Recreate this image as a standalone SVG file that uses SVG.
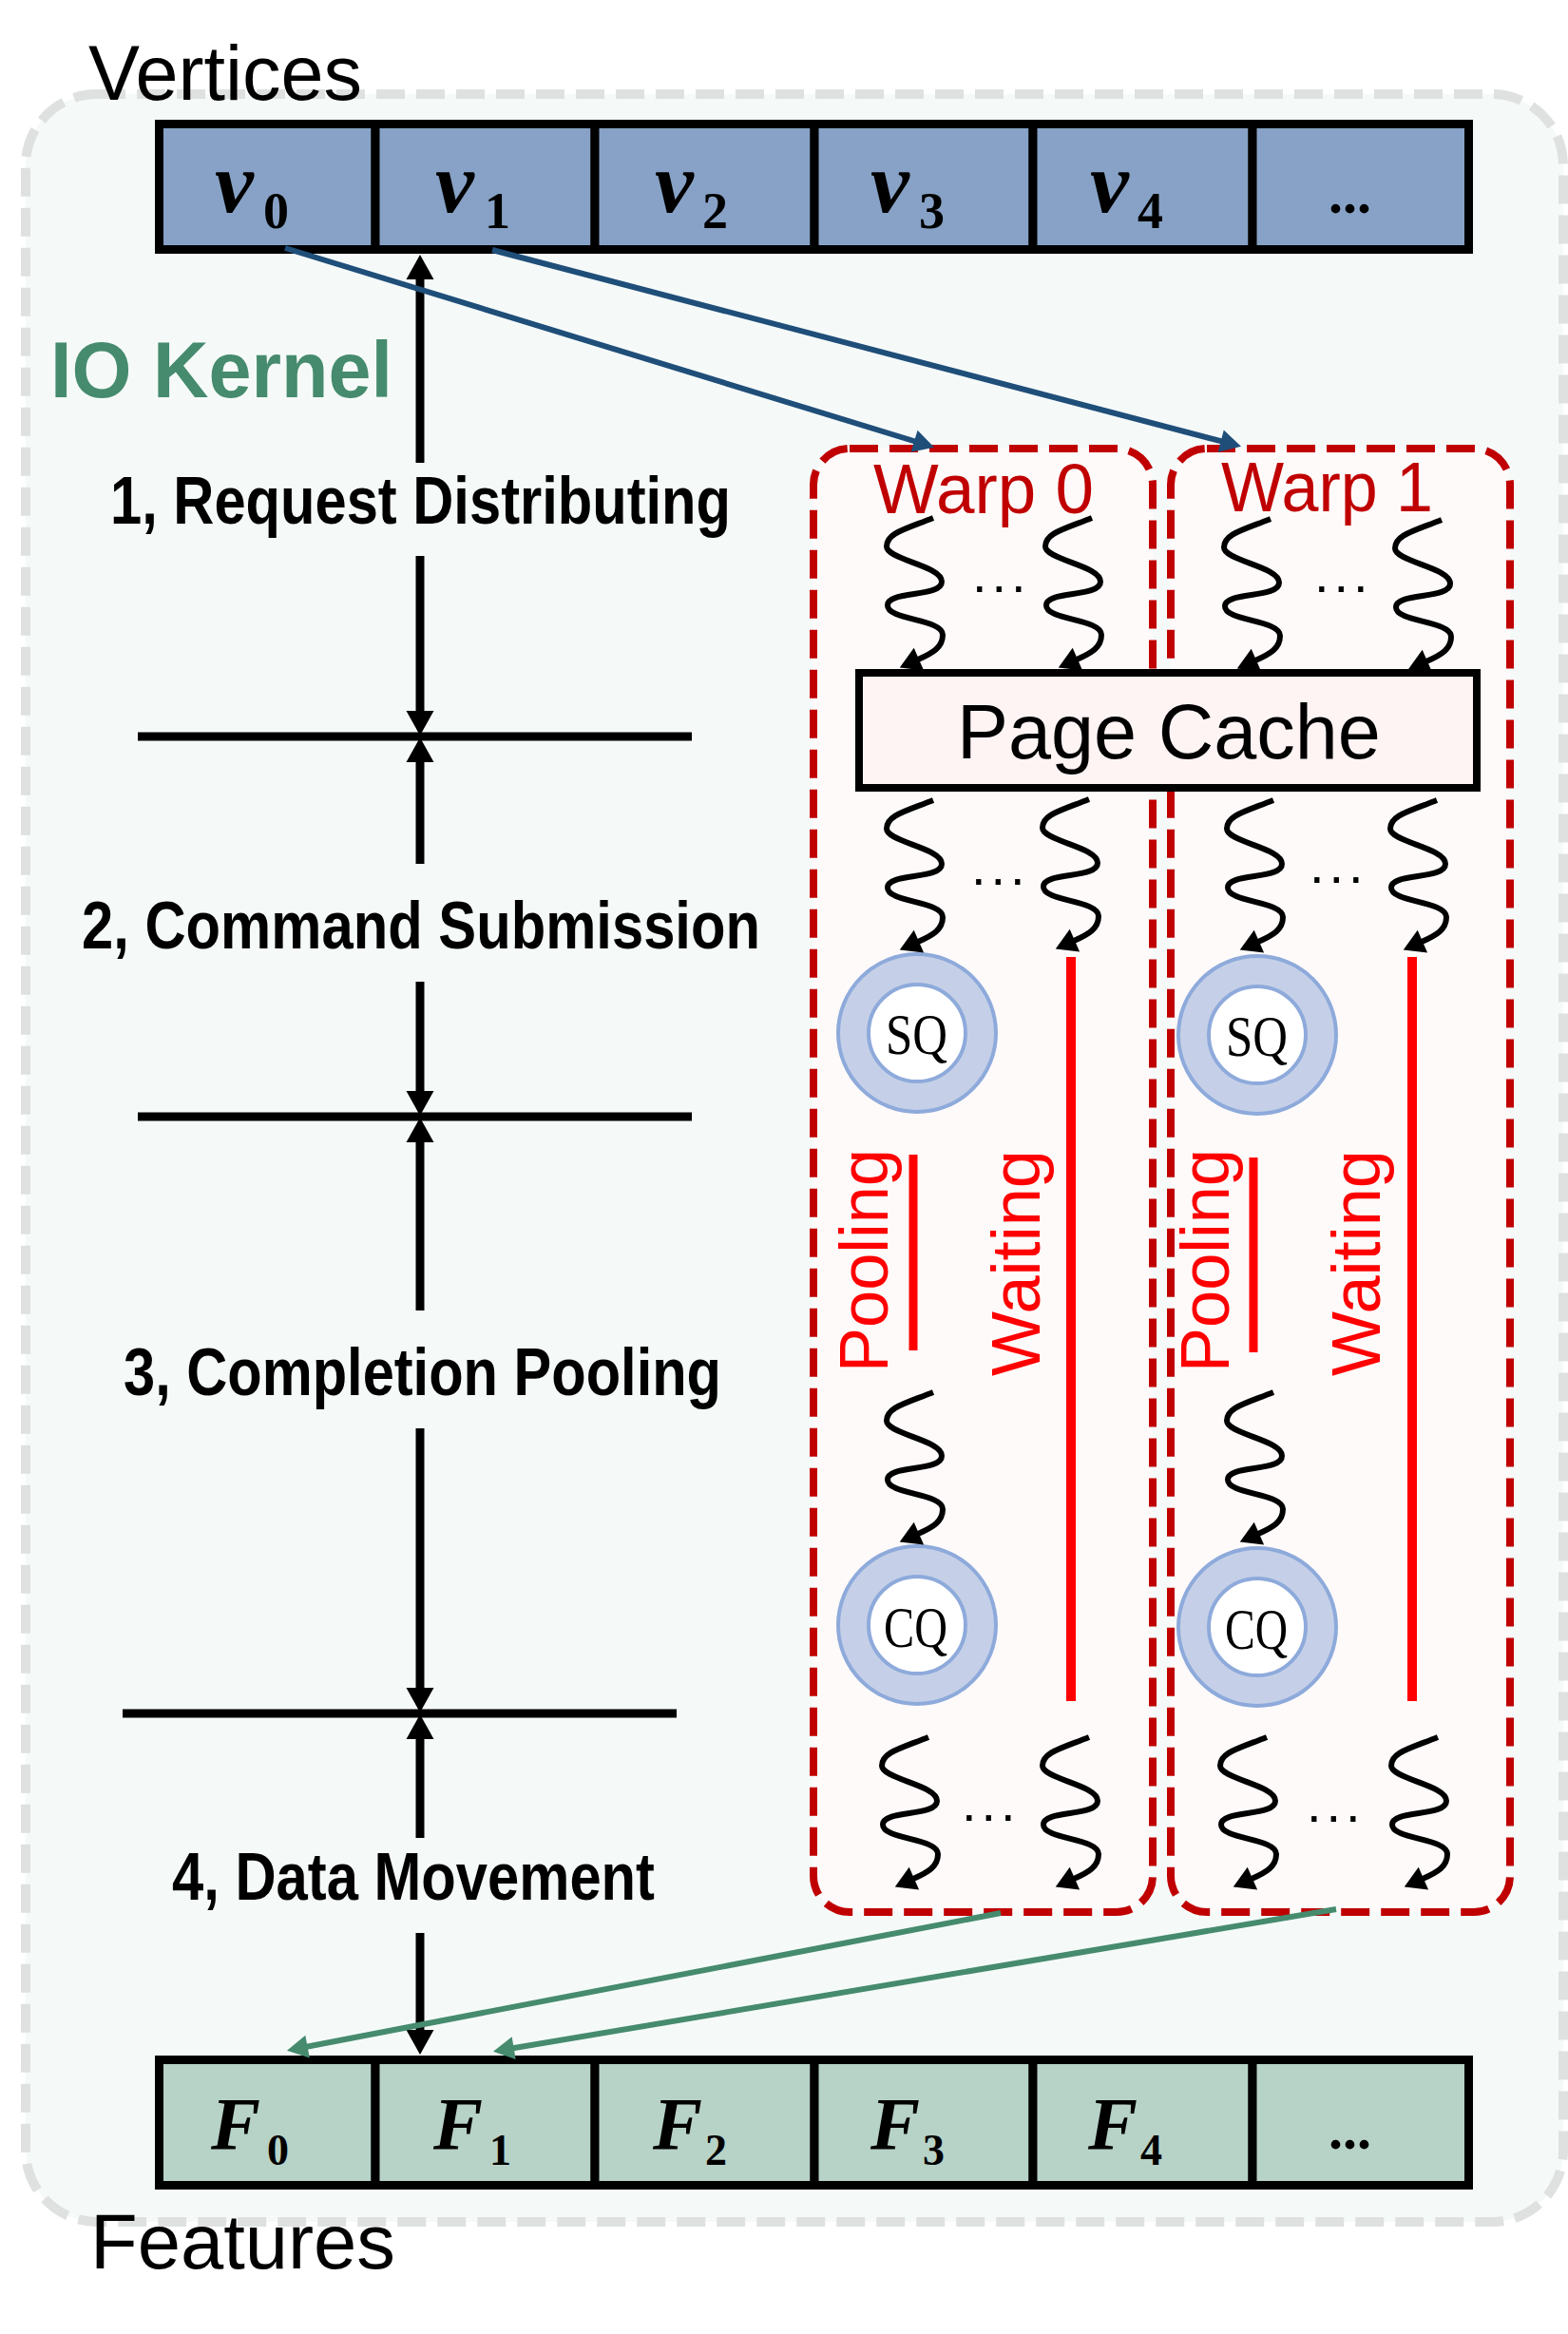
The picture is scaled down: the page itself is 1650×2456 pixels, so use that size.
<svg xmlns="http://www.w3.org/2000/svg" width="1650" height="2456" viewBox="0 0 1650 2456">
<defs>
<style>
.big{font-family:"Liberation Sans",Arial,sans-serif;font-size:82px;fill:#000;}
.step{font-family:"Liberation Sans",Arial,sans-serif;font-weight:bold;font-size:70px;fill:#000;}
.kern{font-family:"Liberation Sans",Arial,sans-serif;font-weight:bold;font-size:84px;fill:#468b6e;}
.math{font-family:"Liberation Serif","Times New Roman",serif;font-weight:bold;font-style:italic;fill:#000;}
.sub{font-family:"Liberation Serif","Times New Roman",serif;font-weight:bold;font-style:normal;fill:#000;}
.mdots{font-family:"Liberation Serif","Times New Roman",serif;font-weight:bold;font-size:60px;fill:#000;}
.q{font-family:"Liberation Serif","Times New Roman",serif;font-size:62px;fill:#000;}
.warp{font-family:"Liberation Sans",Arial,sans-serif;font-size:75px;fill:#c00000;}
.red{font-family:"Liberation Sans",Arial,sans-serif;font-size:72px;fill:#ff0000;}
.pc{font-family:"Liberation Sans",Arial,sans-serif;font-size:81px;fill:#000;}
.dots{font-family:"Liberation Sans",Arial,sans-serif;font-size:56px;letter-spacing:4.9px;fill:#000;}
.cellv{fill:#87a2c6;stroke:#000;stroke-width:9;}
.cellf{fill:#b7d2c6;stroke:#000;stroke-width:9;}
.warpbox{fill:#fefafa;stroke:#c00000;stroke-width:8;stroke-dasharray:30 12;}
.ring{fill:#c5d0e8;stroke:#8eaadb;stroke-width:4;}
.inner{fill:#fff;stroke:#8eaadb;stroke-width:4;}
.wave{fill:none;stroke:#000;stroke-width:6;marker-end:url(#mw);}
.axis{stroke:#000;stroke-width:9;fill:none;}
.ax{marker-end:url(#ma);}
.wait{stroke:#ff0000;stroke-width:10;}
.under{stroke:#ff0000;stroke-width:9;}
.blue{stroke:#1f4e79;stroke-width:6;fill:none;marker-end:url(#mb);}
.green{stroke:#468b6e;stroke-width:6;fill:none;marker-end:url(#mg);}
</style>
<marker id="mw" markerUnits="userSpaceOnUse" markerWidth="24" markerHeight="28" refX="1" refY="13" orient="auto" overflow="visible"><path d="M0,0 L22,13 L0,26 Z" fill="#000"/></marker>
<marker id="ma" markerUnits="userSpaceOnUse" markerWidth="28" markerHeight="30" refX="1" refY="14.5" orient="auto" overflow="visible"><path d="M0,0 L26,14.5 L0,29 Z" fill="#000"/></marker>
<marker id="mb" markerUnits="userSpaceOnUse" markerWidth="24" markerHeight="26" refX="1" refY="12" orient="auto" overflow="visible"><path d="M0,0 L22,12 L0,24 Z" fill="#1f4e79"/></marker>
<marker id="mg" markerUnits="userSpaceOnUse" markerWidth="24" markerHeight="26" refX="1" refY="12" orient="auto" overflow="visible"><path d="M0,0 L22,12 L0,24 Z" fill="#468b6e"/></marker>
<path id="wv" class="wave" d="M0,0 C-30,12 -49,16 -49,30 C-49,44 9,50 9,67 C9,84 -48,76 -48,92 C-48,108 10,106 10,123 C10,136 0,142 -16,149"/>
</defs>

<g id="io-kernel">
<rect x="27" y="99" width="1618" height="2239" rx="75" fill="#f5faf9" stroke="#dfe1e1" stroke-width="10" stroke-dasharray="30 12"/>
<text class="kern" x="53" y="418" textLength="360" lengthAdjust="spacingAndGlyphs">IO Kernel</text>
</g>

<g id="vertices-label"><text class="big" x="93" y="105" textLength="288" lengthAdjust="spacingAndGlyphs">Vertices</text></g>
<g id="features-label"><text class="big" x="95" y="2387" textLength="321" lengthAdjust="spacingAndGlyphs">Features</text></g>

<g id="vertices">
<g id="v0"><rect class="cellv" x="167.5" y="130.5" width="227.5" height="132"/><text class="math" x="226" y="223" font-size="92">v</text><text class="sub" x="277" y="240" font-size="54">0</text></g>
<g id="v1"><rect class="cellv" x="395" y="130.5" width="231" height="132"/><text class="math" x="458" y="223" font-size="92">v</text><text class="sub" x="510" y="240" font-size="54">1</text></g>
<g id="v2"><rect class="cellv" x="626" y="130.5" width="231" height="132"/><text class="math" x="689" y="223" font-size="92">v</text><text class="sub" x="739" y="240" font-size="54">2</text></g>
<g id="v3"><rect class="cellv" x="857" y="130.5" width="230" height="132"/><text class="math" x="916" y="223" font-size="92">v</text><text class="sub" x="967" y="240" font-size="54">3</text></g>
<g id="v4"><rect class="cellv" x="1087" y="130.5" width="231" height="132"/><text class="math" x="1147" y="223" font-size="92">v</text><text class="sub" x="1197" y="240" font-size="54">4</text></g>
<g id="v-more"><rect class="cellv" x="1318" y="130.5" width="227.5" height="132"/><text class="mdots" x="1398" y="224">...</text></g>
</g>

<g id="features">
<g id="f0"><rect class="cellf" x="167.5" y="2167.5" width="227.5" height="132"/><text class="math" x="222" y="2261" font-size="78">F</text><text class="sub" x="281" y="2278" font-size="46">0</text></g>
<g id="f1"><rect class="cellf" x="395" y="2167.5" width="231" height="132"/><text class="math" x="456" y="2261" font-size="78">F</text><text class="sub" x="515" y="2278" font-size="46">1</text></g>
<g id="f2"><rect class="cellf" x="626" y="2167.5" width="231" height="132"/><text class="math" x="687" y="2261" font-size="78">F</text><text class="sub" x="742" y="2278" font-size="46">2</text></g>
<g id="f3"><rect class="cellf" x="857" y="2167.5" width="230" height="132"/><text class="math" x="916" y="2261" font-size="78">F</text><text class="sub" x="971" y="2278" font-size="46">3</text></g>
<g id="f4"><rect class="cellf" x="1087" y="2167.5" width="231" height="132"/><text class="math" x="1145" y="2261" font-size="78">F</text><text class="sub" x="1200" y="2278" font-size="46">4</text></g>
<g id="f-more"><rect class="cellf" x="1318" y="2167.5" width="227.5" height="132"/><text class="mdots" x="1398" y="2261">...</text></g>
</g>

<g id="warp0">
<rect class="warpbox" x="856" y="472" width="357" height="1540" rx="38"/>
<text class="warp" x="919" y="540" textLength="232" lengthAdjust="spacingAndGlyphs">Warp 0</text>
</g>
<g id="warp1">
<rect class="warpbox" x="1232" y="472" width="357" height="1540" rx="38"/>
<text class="warp" x="1285" y="538" textLength="223" lengthAdjust="spacingAndGlyphs">Warp 1</text>
</g>

<g id="page-cache">
<rect x="904" y="708" width="650" height="121" fill="#fff4f4" stroke="#000" stroke-width="8"/>
<text class="pc" x="1007" y="798">Page Cache</text>
</g>

<g id="sq0"><circle class="ring" cx="965" cy="1087" r="83"/><circle class="inner" cx="965" cy="1087" r="51"/><text class="q" x="932" y="1109" textLength="65" lengthAdjust="spacingAndGlyphs">SQ</text></g>
<g id="sq1"><circle class="ring" cx="1323" cy="1089" r="83"/><circle class="inner" cx="1323" cy="1089" r="51"/><text class="q" x="1290" y="1111" textLength="65" lengthAdjust="spacingAndGlyphs">SQ</text></g>
<g id="cq0"><circle class="ring" cx="965" cy="1710" r="83"/><circle class="inner" cx="965" cy="1710" r="51"/><text class="q" x="930" y="1733" textLength="67" lengthAdjust="spacingAndGlyphs">CQ</text></g>
<g id="cq1"><circle class="ring" cx="1323" cy="1712" r="83"/><circle class="inner" cx="1323" cy="1712" r="51"/><text class="q" x="1289" y="1735" textLength="66" lengthAdjust="spacingAndGlyphs">CQ</text></g>

<g id="pooling0"><text class="red" transform="translate(934,1444) rotate(-90)" textLength="235" lengthAdjust="spacingAndGlyphs">Pooling</text><line class="under" x1="961" y1="1215" x2="961" y2="1421"/></g>
<g id="waiting0"><text class="red" transform="translate(1094,1448) rotate(-90)" textLength="238" lengthAdjust="spacingAndGlyphs">Waiting</text><line class="wait" x1="1127" y1="1007" x2="1127" y2="1790"/></g>
<g id="pooling1"><text class="red" transform="translate(1293,1444) rotate(-90)" textLength="235" lengthAdjust="spacingAndGlyphs">Pooling</text><line class="under" x1="1319" y1="1218" x2="1319" y2="1423"/></g>
<g id="waiting1"><text class="red" transform="translate(1452,1448) rotate(-90)" textLength="238" lengthAdjust="spacingAndGlyphs">Waiting</text><line class="wait" x1="1486" y1="1007" x2="1486" y2="1790"/></g>

<g id="threads">
<use href="#wv" x="982" y="545"/><use href="#wv" x="1149" y="545"/>
<use href="#wv" x="1337" y="546"/><use href="#wv" x="1517" y="547"/>
<use href="#wv" x="982" y="842"/><use href="#wv" x="1146" y="841"/>
<use href="#wv" x="1340" y="842"/><use href="#wv" x="1512" y="842"/>
<use href="#wv" x="982" y="1465"/><use href="#wv" x="1340" y="1465"/>
<use href="#wv" x="977" y="1828"/><use href="#wv" x="1146" y="1828"/>
<use href="#wv" x="1333" y="1828"/><use href="#wv" x="1513" y="1828"/>
<text class="dots" x="1023" y="623">...</text>
<text class="dots" x="1383" y="623">...</text>
<text class="dots" x="1022" y="931">...</text>
<text class="dots" x="1378" y="929">...</text>
<text class="dots" x="1012" y="1916">...</text>
<text class="dots" x="1375" y="1917">...</text>
</g>

<g id="step1"><text class="step" x="116" y="551" textLength="653" lengthAdjust="spacingAndGlyphs">1, Request Distributing</text></g>
<g id="step2"><text class="step" x="86" y="998" textLength="714" lengthAdjust="spacingAndGlyphs">2, Command Submission</text></g>
<g id="step3"><text class="step" x="130" y="1468" textLength="629" lengthAdjust="spacingAndGlyphs">3, Completion Pooling</text></g>
<g id="step4"><text class="step" x="181" y="1999" textLength="508" lengthAdjust="spacingAndGlyphs">4, Data Movement</text></g>

<g id="connectors">
<line class="axis" x1="145" y1="775" x2="728" y2="775"/>
<line class="axis" x1="145" y1="1175" x2="728" y2="1175"/>
<line class="axis" x1="129" y1="1803" x2="712" y2="1803"/>
<line class="axis ax" x1="442" y1="487" x2="442" y2="293"/>
<line class="axis ax" x1="442" y1="585" x2="442" y2="749"/>
<line class="axis ax" x1="442" y1="909" x2="442" y2="801"/>
<line class="axis ax" x1="442" y1="1033" x2="442" y2="1149"/>
<line class="axis ax" x1="442" y1="1379" x2="442" y2="1201"/>
<line class="axis ax" x1="442" y1="1503" x2="442" y2="1777"/>
<line class="axis ax" x1="442" y1="1934" x2="442" y2="1829"/>
<line class="axis ax" x1="442" y1="2034" x2="442" y2="2137"/>
<line class="blue" x1="300" y1="261" x2="963" y2="464.5"/>
<line class="blue" x1="518" y1="263" x2="1285.7" y2="464.4"/>
<line class="green" x1="1053" y1="2013" x2="322.6" y2="2153.8"/>
<line class="green" x1="1406" y1="2009" x2="539.7" y2="2155.3"/>
</g>
</svg>
